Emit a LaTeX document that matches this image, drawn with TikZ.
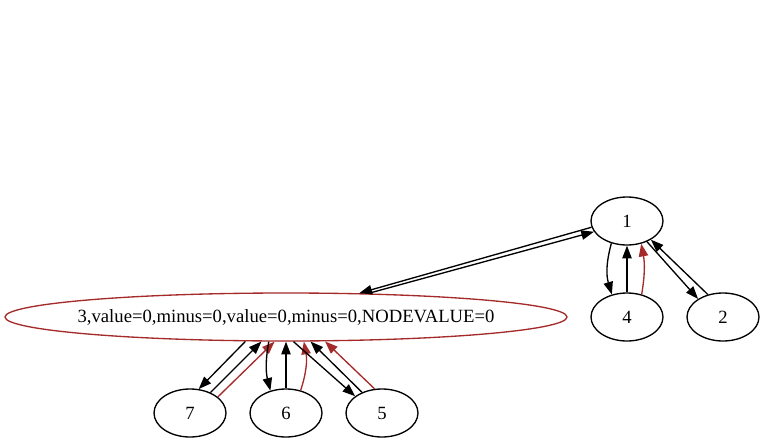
\documentclass[tikz,border=0pt]{standalone}
\usepackage{fontspec}
\setmainfont{Liberation Serif}
\usetikzlibrary{shapes.geometric,arrows.meta}
\definecolor{gvbrown}{HTML}{A52A2A}

\begin{document}
\begin{tikzpicture}[x=0.75pt, y=-0.75pt,
    vertex/.style={ellipse, draw, line width=1pt, inner sep=0pt,
      minimum width=54pt, minimum height=36pt,
      font=\fontsize{14}{16}\selectfont},
    edge/.style={line width=1pt, -{Triangle[length=9.5pt,width=7pt]}},
    redge/.style={edge, gvbrown}]

  \useasboundingbox (0,0) rectangle (765,443);

  \node[vertex]                                 (n1) at (627,221) {1};
  \node[vertex]                                 (n4) at (627,317) {4};
  \node[vertex]                                 (n2) at (723,317) {2};
  \node[vertex, draw=gvbrown, minimum width=421.5pt]
                                                (n3) at (286,317)
    {\makebox[0pt]{3,value=0,minus=0,value=0,minus=0,NODEVALUE=0}};
  \node[vertex]                                 (n7) at (190,413) {7};
  \node[vertex]                                 (n6) at (286,413) {6};
  \node[vertex]                                 (n5) at (382,413) {5};

  \draw [edge]  (n1.190) -- (n3.18)  ;
  \draw [edge]  (n3.16)  -- (n1.198) ;

  \draw [edge]  (n1.235) to[bend right=16] (n4.124) ;
  \draw [edge]  (n4.north) -- (n1.south) ;
  \draw [redge] (n4.57)  to[bend right=10] (n1.302) ;
  \draw [edge]  (n1.314) -- (n2.144) ;
  \draw [edge]  (n2.124) -- (n1.322) ;

  \draw [edge]  (n3.211) -- (n7.70)  ;
  \draw [edge]  (n7.45)  -- (n3.225) ;
  \draw [redge] (n7.30)  -- (n3.245) ;
  \draw [edge]  (n3.235) to[bend right=12] (n6.125) ;
  \draw [edge]  (n6.north) -- (n3.south) ;
  \draw [redge] (n6.57)  to[bend right=14] (n3.306) ;
  \draw [edge]  (n3.287) -- (n5.148) ;
  \draw [edge]  (n5.134) -- (n3.315) ;
  \draw [redge] (n5.107) -- (n3.328) ;

\end{tikzpicture}
\end{document}
